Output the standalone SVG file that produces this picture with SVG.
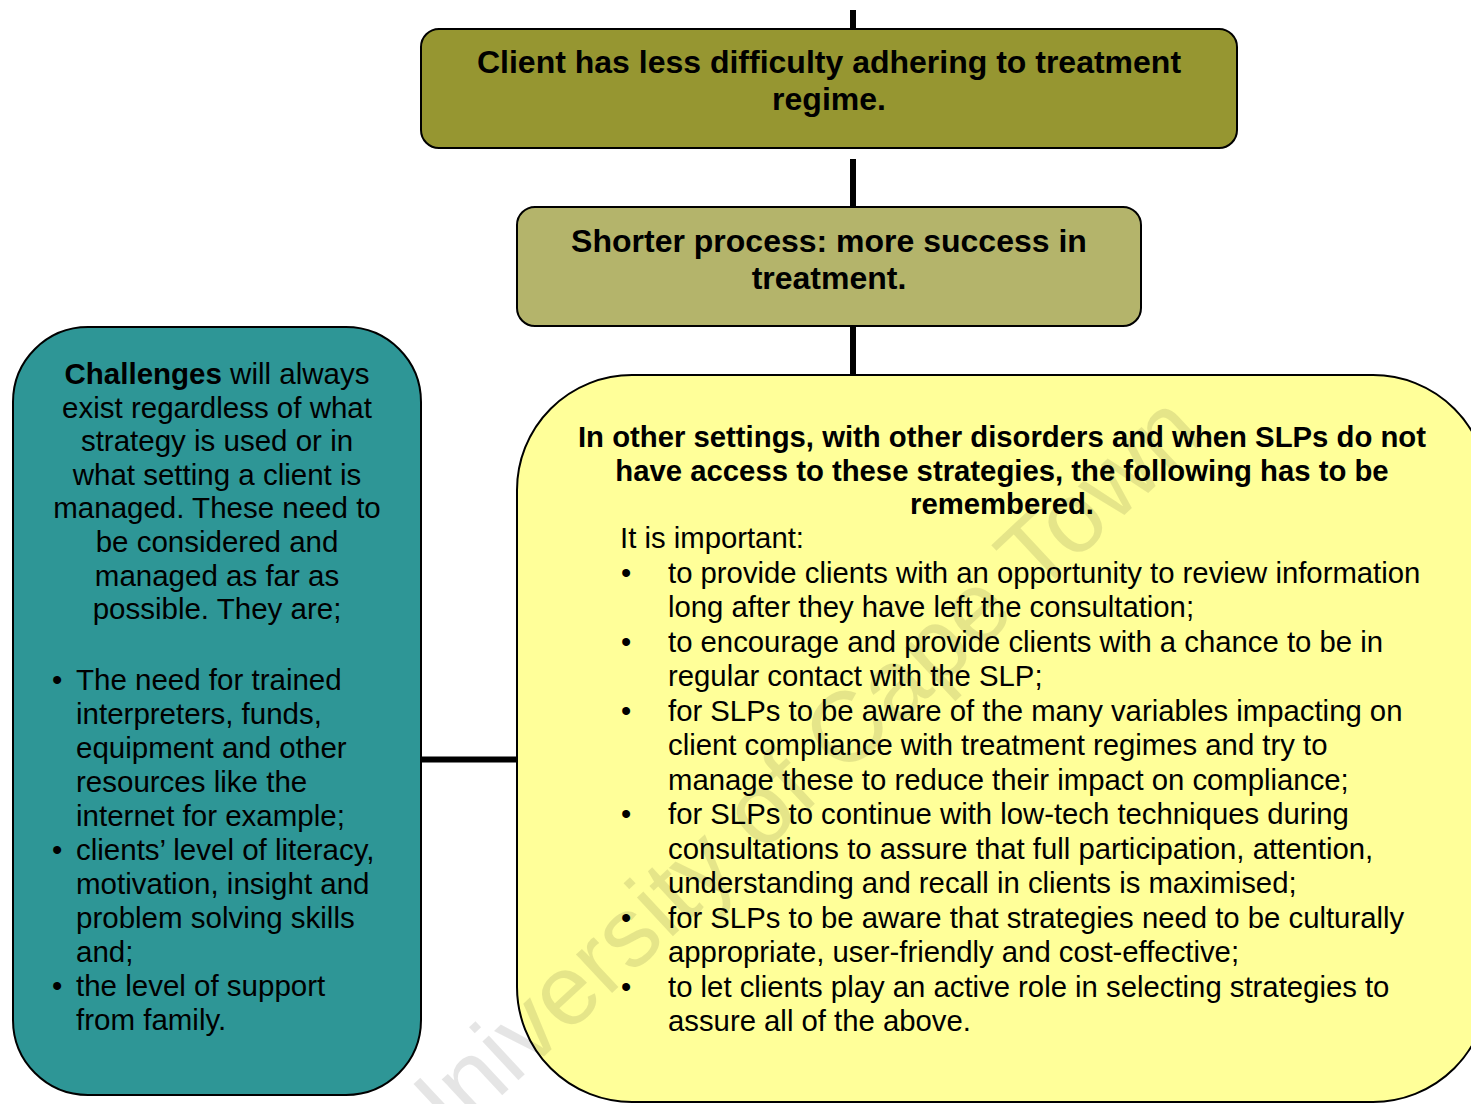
<svg xmlns="http://www.w3.org/2000/svg" width="1471" height="1104" viewBox="0 0 1471 1104">
  <style>
    .box { stroke: #000; stroke-width: 2; }
    .conn { stroke: #000; stroke-width: 6; fill: none; }
    .t { font-family: "Liberation Sans", Arial, sans-serif; fill: #000; }
    .hb { font-size: 32px; font-weight: bold; text-anchor: middle; }
    .yh { font-size: 29.3px; font-weight: bold; text-anchor: middle; }
    .tb { font-size: 29.5px; }
    .yb { font-size: 29.3px; }
    .c { text-anchor: middle; }
    .wm { font-family: "Liberation Sans", Arial, sans-serif; font-size: 100px; fill: #000; fill-opacity: 0.1; }
  </style>

  <g id="connectors">
    <line class="conn" x1="853" y1="10" x2="853" y2="29"/>
    <line class="conn" x1="853" y1="159" x2="853" y2="207"/>
    <line class="conn" x1="853" y1="327" x2="853" y2="375"/>
    <line class="conn" x1="421" y1="759.5" x2="517" y2="759.5"/>
  </g>

  <g id="node-adherence">
    <rect class="box" x="421" y="29" width="816" height="119" rx="18" ry="18" fill="#969631"/>
    <text class="t hb" x="829" y="73">Client has less difficulty adhering to treatment</text>
    <text class="t hb" x="829" y="110">regime.</text>
  </g>

  <g id="node-shorter">
    <rect class="box" x="517" y="207" width="624" height="119" rx="18" ry="18" fill="#b4b46b"/>
    <text class="t hb" x="829" y="252">Shorter process: more success in</text>
    <text class="t hb" x="829" y="289">treatment.</text>
  </g>

  <g id="node-challenges">
    <rect class="box" x="13" y="327" width="408" height="768" rx="75" ry="75" fill="#2e9696"/>
    <text class="t tb c" x="217" y="384"><tspan font-weight="bold">Challenges</tspan> will always</text>
    <text class="t tb c" x="217" y="417.6">exist regardless of what</text>
    <text class="t tb c" x="217" y="451.2">strategy is used or in</text>
    <text class="t tb c" x="217" y="484.8">what setting a client is</text>
    <text class="t tb c" x="217" y="518.4">managed. These need to</text>
    <text class="t tb c" x="217" y="552">be considered and</text>
    <text class="t tb c" x="217" y="585.6">managed as far as</text>
    <text class="t tb c" x="217" y="619.2">possible. They are;</text>
    <g class="t tb">
      <text x="52" y="690">•</text><text x="76" y="690">The need for trained</text>
      <text x="76" y="724">interpreters, funds,</text>
      <text x="76" y="758">equipment and other</text>
      <text x="76" y="792">resources like the</text>
      <text x="76" y="826">internet for example;</text>
      <text x="52" y="860">•</text><text x="76" y="860">clients’ level of literacy,</text>
      <text x="76" y="894">motivation, insight and</text>
      <text x="76" y="928">problem solving skills</text>
      <text x="76" y="962">and;</text>
      <text x="52" y="996">•</text><text x="76" y="996">the level of support</text>
      <text x="76" y="1030">from family.</text>
    </g>
  </g>

  <g id="node-remember">
    <rect class="box" x="517" y="375" width="971" height="727" rx="115" ry="115" fill="#ffff99"/>
    <text class="t yh" x="1002" y="447">In other settings, with other disorders and when SLPs do not</text>
    <text class="t yh" x="1002" y="480.5">have access to these strategies, the following has to be</text>
    <text class="t yh" x="1002" y="514">remembered.</text>
    <g class="t yb">
      <text x="620" y="548">It is important:</text>
      <text x="621" y="582.5">•</text><text x="668" y="582.5">to provide clients with an opportunity to review information</text>
      <text x="668" y="617">long after they have left the consultation;</text>
      <text x="621" y="651.5">•</text><text x="668" y="651.5">to encourage and provide clients with a chance to be in</text>
      <text x="668" y="686">regular contact with the SLP;</text>
      <text x="621" y="720.5">•</text><text x="668" y="720.5">for SLPs to be aware of the many variables impacting on</text>
      <text x="668" y="755">client compliance with treatment regimes and try to</text>
      <text x="668" y="789.5">manage these to reduce their impact on compliance;</text>
      <text x="621" y="824">•</text><text x="668" y="824">for SLPs to continue with low-tech techniques during</text>
      <text x="668" y="858.5">consultations to assure that full participation, attention,</text>
      <text x="668" y="893">understanding and recall in clients is maximised;</text>
      <text x="621" y="927.5">•</text><text x="668" y="927.5">for SLPs to be aware that strategies need to be culturally</text>
      <text x="668" y="962">appropriate, user-friendly and cost-effective;</text>
      <text x="621" y="996.5">•</text><text x="668" y="996.5">to let clients play an active role in selecting strategies to</text>
      <text x="668" y="1031">assure all of the above.</text>
    </g>
  </g>

  <text class="wm" x="420" y="1172" transform="rotate(-43 420 1172)">University of Cape Town</text>
</svg>
